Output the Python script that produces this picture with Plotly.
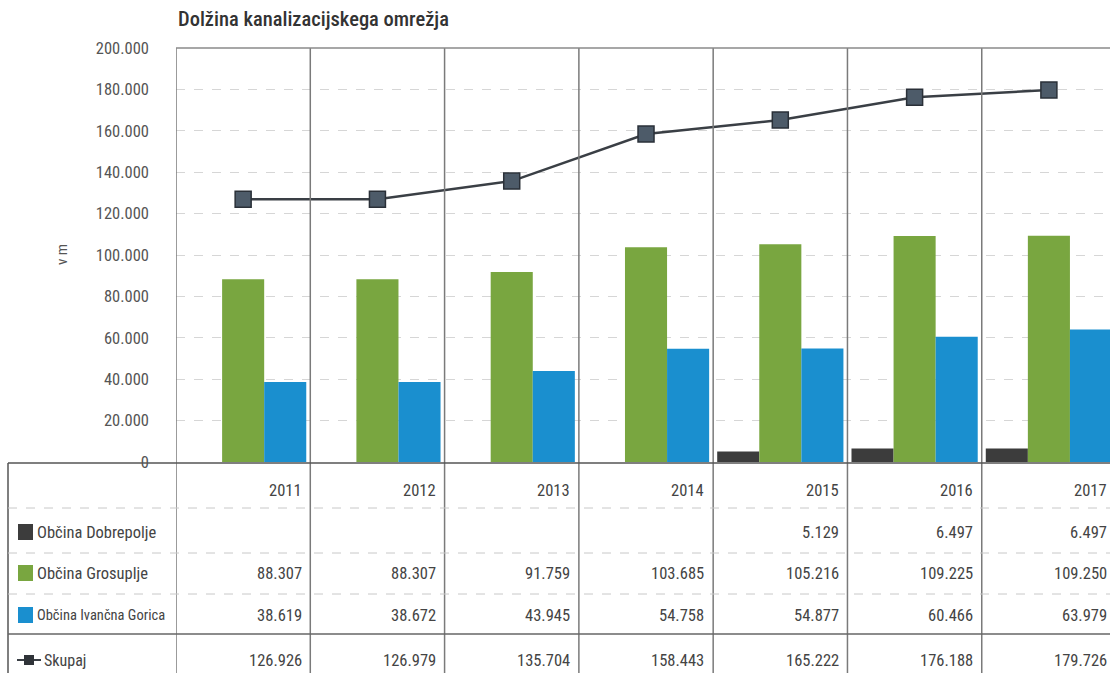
import plotly.graph_objects as go

years = ["2011", "2012", "2013", "2014", "2015", "2016", "2017"]
dobrepolje = [None, None, None, None, 5129, 6497, 6497]
grosuplje = [88307, 88307, 91759, 103685, 105216, 109225, 109250]
ivancna = [38619, 38672, 43945, 54758, 54877, 60466, 63979]
skupaj = [126926, 126979, 135704, 158443, 165222, 176188, 179726]

series_names = ["Občina Dobrepolje", "Občina Grosuplje", "Občina Ivančna Gorica"]
colors = ["#3c3c3c", "#79a640", "#1a8fcf"]
line_name = "Skupaj"
yticks = [0, 20000, 40000, 60000, 80000, 100000, 120000, 140000, 160000, 180000, 200000]

FONT = "Roboto Condensed, Roboto, Liberation Sans Narrow, sans-serif"

W, H = 1110, 673
L, R, T, B = 176, 0, 48, 211
PW = W - L - R
PH = H - T - B

def px_x(x):
    return (x - L) / PW

def px_y(y):
    return (H - B - y) / PH

def fmt(v):
    return "" if v is None else f"{v:,}".replace(",", ".")

xs = list(range(len(years)))

fig = go.Figure()
for name, vals, col in zip(series_names, [dobrepolje, grosuplje, ivancna], colors):
    fig.add_trace(go.Bar(x=xs, y=vals, name=name, marker=dict(color=col, line=dict(width=0)),
                         showlegend=False))
fig.add_trace(go.Scatter(x=xs, y=skupaj, name=line_name, mode="lines+markers",
                         line=dict(color="#3a3f45", width=2.5),
                         marker=dict(symbol="square", size=16, color="#4d5b69",
                                     line=dict(color="#2a3038", width=1.5)),
                         showlegend=False))

shapes = []
n = len(years)
for i in range(n):
    shapes.append(dict(type="line", xref="x", yref="paper", x0=i - 0.5, x1=i - 0.5,
                       y0=px_y(H), y1=1, line=dict(color="#7a7a7a", width=1.5)))
shapes.append(dict(type="line", xref="paper", yref="paper", x0=0, x1=1, y0=1, y1=1,
                   line=dict(color="#8a8a8a", width=1.5)))
shapes.append(dict(type="line", xref="paper", yref="paper", x0=px_x(8), x1=px_x(8),
                   y0=px_y(H), y1=px_y(463), line=dict(color="#555", width=1.5)))
shapes.append(dict(type="line", xref="paper", yref="paper", x0=px_x(8), x1=1,
                   y0=px_y(463), y1=px_y(463), line=dict(color="#555", width=1.5)))
for yy in [508, 553, 594]:
    shapes.append(dict(type="line", xref="paper", yref="paper", x0=px_x(8), x1=1,
                       y0=px_y(yy), y1=px_y(yy), line=dict(color="#c8c8c8", width=1, dash="dash")))
shapes.append(dict(type="line", xref="paper", yref="paper", x0=px_x(8), x1=1,
                   y0=px_y(634), y1=px_y(634), line=dict(color="#666", width=1.5)))

row_y = [532, 573, 615]
for yy, col in zip(row_y, colors):
    shapes.append(dict(type="rect", xref="paper", yref="paper",
                       x0=px_x(18), x1=px_x(33), y0=px_y(yy + 8), y1=px_y(yy - 8),
                       fillcolor=col, line=dict(width=0)))
shapes.append(dict(type="line", xref="paper", yref="paper", x0=px_x(17), x1=px_x(41),
                   y0=px_y(660), y1=px_y(660), line=dict(color="#3a3f45", width=2)))
shapes.append(dict(type="rect", xref="paper", yref="paper", x0=px_x(24), x1=px_x(34),
                   y0=px_y(665), y1=px_y(655), fillcolor="#2f3338", line=dict(width=0)))

annotations = []
tfont = dict(family=FONT, size=16.5, color="#444")
for i, yr in enumerate(years):
    annotations.append(dict(x=i + 0.45, y=px_y(490), xref="x", yref="paper", text=yr,
                            showarrow=False, xanchor="right", yanchor="middle", font=tfont))
for vals, yy in zip([dobrepolje, grosuplje, ivancna, skupaj], row_y + [660]):
    for i, v in enumerate(vals):
        if v is None:
            continue
        annotations.append(dict(x=i + 0.45, y=px_y(yy), xref="x", yref="paper", text=fmt(v),
                                showarrow=False, xanchor="right", yanchor="middle", font=tfont))
for name, yy in zip(series_names, row_y):
    annotations.append(dict(x=px_x(35), y=px_y(yy), xref="paper", yref="paper", text=name,
                            showarrow=False, xanchor="left", yanchor="middle",
                            font=dict(family=FONT, size=16.5 if "Ivan" not in name else 14.5,
                                      color="#444")))
annotations.append(dict(x=px_x(42), y=px_y(660), xref="paper", yref="paper", text=line_name,
                        showarrow=False, xanchor="left", yanchor="middle",
                        font=dict(family=FONT, size=16, color="#444")))
annotations.append(dict(x=px_x(62), y=px_y(255), xref="paper", yref="paper", text="v m",
                        showarrow=False, textangle=-90, xanchor="center", yanchor="middle",
                        font=dict(family=FONT, size=15, color="#555")))
annotations.append(dict(x=0, y=px_y(19), xref="paper", yref="paper",
                        text="Dolžina kanalizacijskega omrežja",
                        showarrow=False, xanchor="left", yanchor="middle",
                        font=dict(family=FONT, size=20.5, color="#333", weight=500)))

fig.update_layout(
    width=W, height=H,
    margin=dict(l=L, r=R, t=T, b=B, pad=0),
    paper_bgcolor="white", plot_bgcolor="white",
    barmode="group", bargap=0.06, bargroupgap=0,
    separators=",.",
    shapes=shapes, annotations=annotations,
    font=dict(family=FONT, color="#555"),
    xaxis=dict(range=[-0.5, 6.455], showticklabels=False, showgrid=False, zeroline=False,
               showline=False, fixedrange=True),
    yaxis=dict(range=[0, 200000], tickvals=yticks, tickformat=",d",
               ticklabelstandoff=26,
               tickfont=dict(family=FONT, size=16.5, color="#555"),
               showgrid=True, gridcolor="#d6d6d6", griddash="dash", gridwidth=1,
               zeroline=False, showline=False, ticks=""),
)

fig.write_html("out.html", config={"displayModeBar": False},
               post_script="document.body.style.margin='0';document.body.style.overflow='hidden';")
